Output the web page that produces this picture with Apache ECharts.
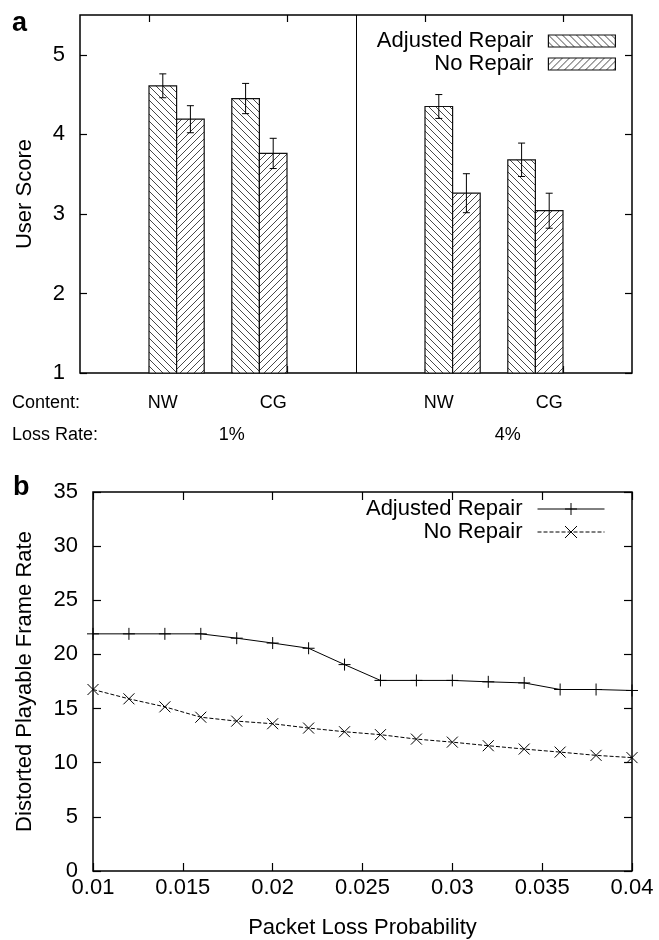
<!DOCTYPE html>
<html><head><meta charset="utf-8">
<script src="https://cdn.jsdelivr.net/npm/echarts@6/dist/echarts.min.js"></script>
<style>html,body{margin:0;padding:0;background:#fff}#c{width:659px;height:940px}</style>
</head><body><div id="c"></div>
<script>
// ---------- Panel a data ----------
const seriesNames = ['Adjusted Repair', 'No Repair'];
const contentLabels = ['NW', 'CG', 'NW', 'CG'];
const lossRateLabels = ['1%', '4%'];
const groupPos = [0.2, 0.8, 2.2, 2.8];          // group centres on the x scale
const adjustedScore = [4.61, 4.45, 4.35, 3.68];
const adjustedErr   = [0.15, 0.19, 0.15, 0.21];
const noRepairScore = [4.19, 3.76, 3.26, 3.04];
const noRepairErr   = [0.17, 0.19, 0.245, 0.22];
const scoreTicks = [1, 2, 3, 4, 5];
const groupTicks = [0, 1, 2, 3];
// ---------- Panel b data ----------
const lossProb = [0.01, 0.012, 0.014, 0.016, 0.018, 0.02, 0.022, 0.024, 0.026, 0.028, 0.03, 0.032, 0.034, 0.036, 0.038, 0.04];
const adjustedRate = [21.9, 21.9, 21.9, 21.9, 21.5, 21.05, 20.57, 19.06, 17.6, 17.6, 17.6, 17.47, 17.37, 16.76, 16.76, 16.67];
const noRepairRate = [16.76, 15.9, 15.16, 14.2, 13.84, 13.6, 13.2, 12.86, 12.59, 12.18, 11.9, 11.57, 11.26, 10.98, 10.68, 10.47];

// ---------- layout / style ----------
const FONT = '"Liberation Sans", Arial, Helvetica, sans-serif';
const barW = 0.2;        // bar width in x-axis units
const yBase = 1;
const labelShift = [-0.1, 0.1, -0.1, 0.1];
const contentLabelPos = groupPos.map((p, i) => +(p + labelShift[i]).toFixed(3));
const lossLabelPos = [+((groupPos[0] + groupPos[1]) / 2 + 0.1).toFixed(3), +((groupPos[2] + groupPos[3]) / 2 + 0.1).toFixed(3)];
const dividerAt = (groupPos[1] + groupPos[2]) / 2;

function hatch(dir) {
  const s = 7, c = document.createElement('canvas');
  c.width = s; c.height = s;
  const g = c.getContext('2d');
  g.fillStyle = '#fff'; g.fillRect(0, 0, s, s);
  g.strokeStyle = '#333'; g.lineWidth = 0.9;
  g.beginPath();
  for (const o of [-s, 0, s]) {
    if (dir > 0) { g.moveTo(o, 0); g.lineTo(o + s, s); }
    else { g.moveTo(o, s); g.lineTo(o + s, 0); }
  }
  g.stroke();
  return { image: c, repeat: 'repeat' };
}
const patAdj = hatch(1), patNo = hatch(-1);

function barRender(pattern) {
  return function (params, api) {
    const x = api.value(0), v = api.value(1), e = api.value(2);
    const tl = api.coord([x - barW / 2, v]);
    const br = api.coord([x + barW / 2, yBase]);
    const pt = api.coord([x, v + e]);
    const pb = api.coord([x, v - e]);
    const cap = 3.5;
    return {
      type: 'group',
      children: [
        { type: 'rect', shape: { x: tl[0], y: tl[1], width: br[0] - tl[0], height: br[1] - tl[1] },
          style: { fill: pattern, stroke: '#111', lineWidth: 1.2 } },
        { type: 'line', shape: { x1: pt[0], y1: pt[1], x2: pb[0], y2: pb[1] }, style: { stroke: '#000', lineWidth: 1 } },
        { type: 'line', shape: { x1: pt[0] - cap, y1: pt[1], x2: pt[0] + cap, y2: pt[1] }, style: { stroke: '#000', lineWidth: 1 } },
        { type: 'line', shape: { x1: pb[0] - cap, y1: pb[1], x2: pb[0] + cap, y2: pb[1] }, style: { stroke: '#000', lineWidth: 1 } }
      ]
    };
  };
}

const plusPath = 'path://M0,6L12,6M6,0L6,12';
const crossPath = 'path://M0,0L12,12M12,0L0,12';

const noLine = { show: false, onZero: false };
const tickStyle = { show: true, inside: true, length: 7, lineStyle: { color: '#000', width: 1.2 } };
const labelBase = { color: '#000', fontFamily: FONT };

const chart = echarts.init(document.getElementById('c'), null, { renderer: 'canvas' });
chart.setOption({
  animation: false,
  backgroundColor: '#fff',
  textStyle: { fontFamily: FONT, color: '#000' },
  grid: [
    { left: 80, top: 15, right: 27, bottom: 567, show: true, borderColor: '#000', borderWidth: 1.5, backgroundColor: 'transparent' },
    { left: 93, top: 492, right: 27, bottom: 68, show: true, borderColor: '#000', borderWidth: 1.5, backgroundColor: 'transparent' }
  ],
  xAxis: [
    { gridIndex: 0, type: 'value', min: -0.5, max: 3.5, position: 'bottom',
      axisLine: noLine, splitLine: { show: false },
      axisTick: Object.assign({ customValues: groupTicks }, tickStyle),
      axisLabel: Object.assign({ customValues: contentLabelPos, margin: 21, fontSize: 18,
        formatter: v => contentLabels[contentLabelPos.indexOf(+(+v).toFixed(3))] || '' }, labelBase) },
    { gridIndex: 0, type: 'value', min: -0.5, max: 3.5, position: 'bottom',
      axisLine: noLine, splitLine: { show: false }, axisTick: { show: false },
      axisLabel: Object.assign({ customValues: lossLabelPos, margin: 53, fontSize: 18,
        formatter: v => lossRateLabels[lossLabelPos.indexOf(+(+v).toFixed(3))] || '' }, labelBase) },
    { gridIndex: 0, type: 'value', min: -0.5, max: 3.5, position: 'top',
      axisLine: noLine, splitLine: { show: false },
      axisTick: Object.assign({ customValues: groupTicks }, tickStyle),
      axisLabel: { show: false } },
    { gridIndex: 1, type: 'value', min: 0.01, max: 0.04, interval: 0.005, position: 'bottom',
      axisLine: noLine, splitLine: { show: false },
      axisTick: Object.assign({}, tickStyle, { length: 8 }),
      axisLabel: Object.assign({ margin: 6, fontSize: 22 }, labelBase),
      name: 'Packet Loss Probability', nameLocation: 'middle', nameGap: 46,
      nameTextStyle: { fontSize: 22, color: '#000', fontFamily: FONT } },
    { gridIndex: 1, type: 'value', min: 0.01, max: 0.04, interval: 0.005, position: 'top',
      axisLine: noLine, splitLine: { show: false },
      axisTick: Object.assign({}, tickStyle, { length: 8 }), axisLabel: { show: false } }
  ],
  yAxis: [
    { gridIndex: 0, type: 'value', min: 1, max: 5.5, position: 'left',
      axisLine: noLine, splitLine: { show: false },
      axisTick: Object.assign({ customValues: scoreTicks }, tickStyle),
      axisLabel: Object.assign({ customValues: scoreTicks, margin: 15, fontSize: 22 }, labelBase),
      name: 'User Score', nameLocation: 'middle', nameGap: 44, nameRotate: 90,
      nameTextStyle: { fontSize: 22, color: '#000', fontFamily: FONT } },
    { gridIndex: 0, type: 'value', min: 1, max: 5.5, position: 'right',
      axisLine: noLine, splitLine: { show: false },
      axisTick: Object.assign({ customValues: scoreTicks }, tickStyle), axisLabel: { show: false } },
    { gridIndex: 1, type: 'value', min: 0, max: 35, interval: 5, position: 'left',
      axisLine: noLine, splitLine: { show: false },
      axisTick: Object.assign({}, tickStyle, { length: 8 }),
      axisLabel: Object.assign({ margin: 15, fontSize: 22 }, labelBase),
      name: 'Distorted Playable Frame Rate', nameLocation: 'middle', nameGap: 57, nameRotate: 90,
      nameTextStyle: { fontSize: 22, color: '#000', fontFamily: FONT } },
    { gridIndex: 1, type: 'value', min: 0, max: 35, interval: 5, position: 'right',
      axisLine: noLine, splitLine: { show: false },
      axisTick: Object.assign({}, tickStyle, { length: 8 }), axisLabel: { show: false } }
  ],
  legend: [
    { data: [
        { name: 'a:' + seriesNames[0], itemStyle: { color: patAdj, borderColor: '#111', borderWidth: 1.2 } },
        { name: 'a:' + seriesNames[1], itemStyle: { color: patNo, borderColor: '#111', borderWidth: 1.2 } }
      ],
      orient: 'vertical', right: 43, top: 30, padding: 0, itemGap: 1, itemWidth: 67, itemHeight: 12,
      icon: 'rect', align: 'right', selectedMode: false,
      formatter: n => n.replace(/^[ab]:/, ''),
      textStyle: { fontSize: 22, color: '#000', fontFamily: FONT, padding: [0, 10, 0, 0] } },
    { data: ['b:' + seriesNames[0], 'b:' + seriesNames[1]],
      orient: 'vertical', right: 54, top: 498, padding: 0, itemGap: 1, itemWidth: 67, itemHeight: 15,
      align: 'right', selectedMode: false,
      lineStyle: { width: 1 },
      itemStyle: { borderWidth: 1 },
      formatter: n => n.replace(/^[ab]:/, ''),
      textStyle: { fontSize: 22, color: '#000', fontFamily: FONT, padding: [0, 10, 0, 0] } }
  ],
  graphic: [
    { type: 'text', x: 12, y: 24, style: { text: 'a', font: 'bold 27px ' + FONT, fill: '#000', verticalAlign: 'middle' } },
    { type: 'text', x: 13, y: 488, style: { text: 'b', font: 'bold 27px ' + FONT, fill: '#000', verticalAlign: 'middle' } },
    { type: 'text', x: 12, y: 403, style: { text: 'Content:', font: '18px ' + FONT, fill: '#000', verticalAlign: 'middle' } },
    { type: 'text', x: 12, y: 435, style: { text: 'Loss Rate:', font: '18px ' + FONT, fill: '#000', verticalAlign: 'middle' } }
  ],
  series: [
    { name: 'a:' + seriesNames[0], type: 'custom', xAxisIndex: 0, yAxisIndex: 0,
      itemStyle: { color: patAdj, borderColor: '#111', borderWidth: 1.2 },
      encode: { x: 0, y: 1 }, renderItem: barRender(patAdj),
      data: groupPos.map((p, i) => [p - barW / 2, adjustedScore[i], adjustedErr[i]]) },
    { name: 'a:' + seriesNames[1], type: 'custom', xAxisIndex: 0, yAxisIndex: 0,
      itemStyle: { color: patNo, borderColor: '#111', borderWidth: 1.2 },
      encode: { x: 0, y: 1 }, renderItem: barRender(patNo),
      data: groupPos.map((p, i) => [p + barW / 2, noRepairScore[i], noRepairErr[i]]) },
    { name: 'divider', type: 'line', xAxisIndex: 0, yAxisIndex: 0, data: [],
      markLine: { silent: true, symbol: 'none', label: { show: false },
        lineStyle: { color: '#000', width: 1, type: 'solid' }, data: [{ xAxis: dividerAt }] } },
    { name: 'b:' + seriesNames[0], type: 'line', xAxisIndex: 3, yAxisIndex: 2,
      data: lossProb.map((x, i) => [x, adjustedRate[i]]),
      symbol: plusPath, symbolSize: 12, clip: false,
      lineStyle: { color: '#000', width: 1 },
      itemStyle: { color: '#000', borderColor: '#000', borderWidth: 1 } },
    { name: 'b:' + seriesNames[1], type: 'line', xAxisIndex: 3, yAxisIndex: 2,
      data: lossProb.map((x, i) => [x, noRepairRate[i]]),
      symbol: crossPath, symbolSize: 11, clip: false,
      lineStyle: { color: '#000', width: 1, type: [4, 2] },
      itemStyle: { color: '#000', borderColor: '#000', borderWidth: 1 } }
  ]
});
</script></body></html>
